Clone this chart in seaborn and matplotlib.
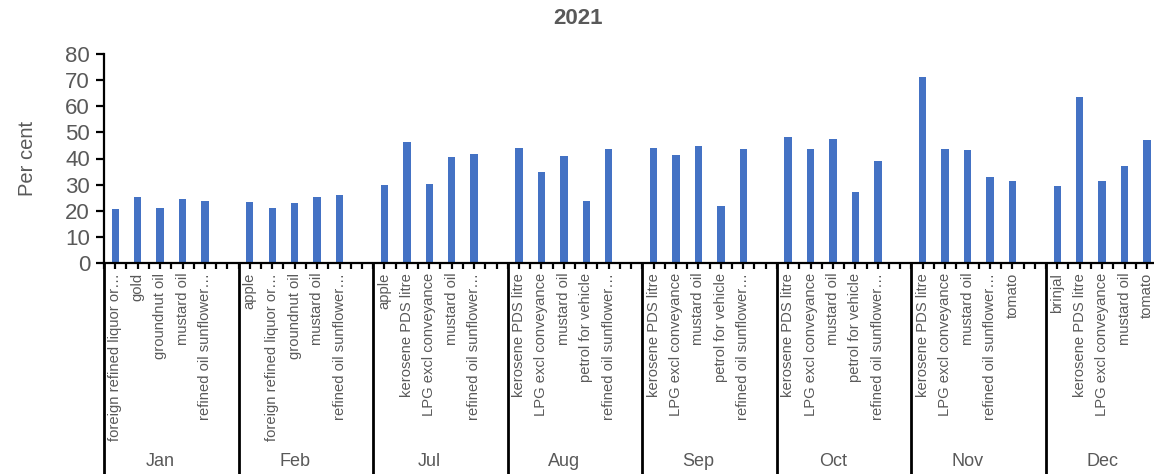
import matplotlib
matplotlib.use("Agg")
import matplotlib.pyplot as plt
import matplotlib.transforms as mtransforms
import numpy as np
import pandas as pd
import seaborn as sns

ELL = "\u2026"

# Months shown on the outer axis and the items inside each month
months = ["Jan", "Feb", "Jul", "Aug", "Sep", "Oct", "Nov", "Dec"]

items_jan = ["foreign refined liquor or" + ELL, "gold", "groundnut oil", "mustard oil",
             "refined oil sunflower" + ELL]
items_feb = ["apple", "foreign refined liquor or" + ELL, "groundnut oil", "mustard oil",
             "refined oil sunflower" + ELL]
items_jul = ["apple", "kerosene PDS litre", "LPG excl conveyance", "mustard oil",
             "refined oil sunflower" + ELL]
items_aug = ["kerosene PDS litre", "LPG excl conveyance", "mustard oil", "petrol for vehicle",
             "refined oil sunflower" + ELL]
items_sep = ["kerosene PDS litre", "LPG excl conveyance", "mustard oil", "petrol for vehicle",
             "refined oil sunflower" + ELL]
items_oct = ["kerosene PDS litre", "LPG excl conveyance", "mustard oil", "petrol for vehicle",
             "refined oil sunflower" + ELL]
items_nov = ["kerosene PDS litre", "LPG excl conveyance", "mustard oil",
             "refined oil sunflower" + ELL, "tomato"]
items_dec = ["brinjal", "kerosene PDS litre", "LPG excl conveyance", "mustard oil", "tomato"]

# Per cent values
values_jan = [20.6, 25.2, 21.1, 24.4, 23.6]
values_feb = [23.3, 21.1, 22.9, 25.2, 26.0]
values_jul = [29.7, 46.5, 30.4, 40.4, 41.9]
values_aug = [44.2, 35.0, 40.8, 23.6, 43.8]
values_sep = [44.2, 41.2, 44.6, 21.8, 43.5]
values_oct = [48.1, 43.5, 47.3, 27.1, 38.9]
values_nov = [71.2, 43.8, 43.1, 32.8, 31.3]
values_dec = [29.4, 63.5, 31.3, 37.3, 46.9]

y_ticks = [0, 10, 20, 30, 40, 50, 60, 70, 80]

all_items = [items_jan, items_feb, items_jul, items_aug, items_sep, items_oct, items_nov, items_dec]
all_values = [values_jan, values_feb, values_jul, values_aug, values_sep, values_oct, values_nov, values_dec]

# Each month occupies its items plus one empty slot as a separator (none after the last)
rows = []
group_bounds = []
start = 0
for m, its, vals in zip(months, all_items, all_values):
    group_bounds.append(start)
    for i, (it, v) in enumerate(zip(its, vals)):
        rows.append({"month": m, "item": it, "value": v, "pos": start + i + 0.5})
    start += len(its) + 1
total_slots = start - 1
group_bounds.append(total_slots)
df = pd.DataFrame(rows)

sns.set_theme(style="white")
plt.rcParams["font.family"] = ["Liberation Sans", "DejaVu Sans"]

GRAY = "#595959"
BLUE = "#4472C4"

W, H = 1154, 474
fig = plt.figure(figsize=(W / 100, H / 100), dpi=100)
slot_px = 22.43
left_px, base_px, top_px = 104, 263, 54
ax = fig.add_axes([left_px / W, (H - base_px) / H,
                   total_slots * slot_px / W, (base_px - top_px) / H])

sns.barplot(data=df, x="pos", y="value", native_scale=True, width=0.33,
            color=BLUE, saturation=1, errorbar=None, linewidth=0, ax=ax)

ax.set_xlim(0, total_slots)
ax.set_ylim(0, 80)
ax.set_yticks(y_ticks)
ax.set_xticks(df["pos"].to_numpy())
ax.set_xticklabels(df["item"].tolist(), rotation=90, ha="center", va="top")
ax.set_xticks(np.arange(0, total_slots + 0.01, 0.5), minor=True)

for s in ["top", "right"]:
    ax.spines[s].set_visible(False)
for s in ["left", "bottom"]:
    ax.spines[s].set_color("black")
    ax.spines[s].set_linewidth(1.6)

ax.tick_params(axis="y", which="major", direction="out", length=6, width=1.6,
               color="black", labelcolor=GRAY, labelsize=16, pad=4, left=True)
ax.tick_params(axis="x", which="both", direction="out", length=4, width=1.6,
               color="black", labelcolor=GRAY, labelsize=10.6, pad=3, bottom=True)

ax.set_xlabel("")
ax.set_ylabel("Per cent", fontsize=14.5, color=GRAY)
ax.yaxis.set_label_coords((37 - left_px) / (total_slots * slot_px), 0.5)

# Month separators and month names below the item labels
trans = mtransforms.blended_transform_factory(ax.transData, ax.transAxes)
axes_h = base_px - top_px
for b in group_bounds:
    ax.plot([b, b], [0, -(H - base_px + 5) / axes_h], transform=trans,
            color="black", lw=2, clip_on=False)
for k, m in enumerate(months):
    c = (group_bounds[k] + group_bounds[k] + len(all_items[k])) / 2
    ax.text(c, -(462 - base_px) / axes_h, m, transform=trans, ha="center",
            va="center", fontsize=13, color=GRAY)

fig.text(578 / W, 1 - 18 / H, "2021", ha="center", va="center",
         fontsize=16, fontweight="bold", color=GRAY)

fig.savefig("out.png", dpi=100)
